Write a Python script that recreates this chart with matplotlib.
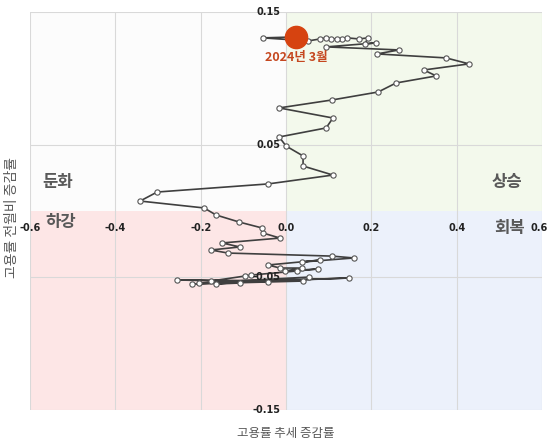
import matplotlib
matplotlib.use("Agg")
import matplotlib.pyplot as plt

plt.rcParams['font.family'] = ['Noto Sans CJK KR', 'DejaVu Sans']

# 고용률 추세 증감률 (x) / 고용률 전월비 증감률 (y), oldest -> latest
trend = [-0.042, -0.255, 0.040, -0.220, 0.148, -0.204, 0.054, -0.164, -0.108, -0.176,
         -0.096, -0.082, 0.026, 0.075, -0.002, 0.037, -0.014, -0.042, 0.080, 0.037,
         0.159, 0.108, -0.136, -0.176, -0.108, -0.150, -0.014, -0.054, -0.056, -0.110,
         -0.164, -0.192, -0.342, -0.302, -0.042, 0.110, 0.040, 0.040, 0.000, -0.016,
         0.094, 0.110, -0.016, 0.108, 0.216, 0.258, 0.352, 0.323, 0.429, 0.375,
         0.213, 0.265, 0.094, 0.211, 0.185, 0.192, 0.171, 0.143, 0.131, 0.120,
         0.105, 0.094, 0.080, 0.052, -0.054, 0.023]
mom = [-0.0535, -0.052, -0.0528, -0.055, -0.0505, -0.0543, -0.0498, -0.055, -0.0543, -0.0528,
       -0.049, -0.0483, -0.0452, -0.0437, -0.0452, -0.043, -0.043, -0.0407, -0.037, -0.0385,
       -0.0354, -0.034, -0.0317, -0.0294, -0.0271, -0.0241, -0.0204, -0.0166, -0.0128, -0.0083,
       -0.003, 0.0023, 0.0075, 0.0143, 0.0204, 0.0271, 0.0339, 0.0415, 0.049, 0.0558,
       0.0626, 0.0701, 0.0777, 0.0837, 0.0897, 0.0965, 0.1018, 0.1063, 0.1109, 0.1154,
       0.1184, 0.1214, 0.1237, 0.1267, 0.1259, 0.1305, 0.1297, 0.1305, 0.1297, 0.1297,
       0.1297, 0.1305, 0.1297, 0.1282, 0.1305, 0.1312]
latest_label = "2024년 3월"

x_ticks = [-0.6, -0.4, -0.2, 0.0, 0.2, 0.4, 0.6]
y_ticks = [-0.15, -0.05, 0.05, 0.15]

fig = plt.figure(figsize=(5.49, 4.44), dpi=100)
ax = fig.add_axes([30/549, 34/444, 512/549, 398/444])
ax.set_xlim(-0.6, 0.6)
ax.set_ylim(-0.15, 0.15)

# quadrant backgrounds
ax.axvspan(-0.6, 0, ymin=0.5, ymax=1, color='#fcfcfc', zorder=0, lw=0)
ax.axvspan(0, 0.6, ymin=0.5, ymax=1, color='#f3f9ec', zorder=0, lw=0)
ax.axvspan(-0.6, 0, ymin=0, ymax=0.5, color='#fde6e6', zorder=0, lw=0)
ax.axvspan(0, 0.6, ymin=0, ymax=0.5, color='#ecf1fb', zorder=0, lw=0)

for xv in x_ticks:
    ax.axvline(xv, color='#d9d9d9', lw=0.8, zorder=1)
for yv in y_ticks:
    ax.axhline(yv, color='#d9d9d9', lw=0.8, zorder=1)

ax.plot(trend, mom, color='#3f3f3f', lw=1.2, marker='o', ms=3.8,
        mfc='white', mec='#555555', mew=0.8, zorder=3)
ax.plot(trend[-1], mom[-1], 'o', ms=16, color='#d64310', zorder=4)
ax.text(trend[-1], mom[-1] - 0.0155, latest_label, color='#c5471f', fontsize=9,
        fontweight='bold', ha='center', va='center', zorder=5)

for s in ax.spines.values():
    s.set_visible(False)
ax.set_xticks([])
ax.set_yticks([])

# tick labels along the zero axes
for xv in x_ticks[:-1]:
    ax.text(xv, -0.0125, f"{xv:.1f}", fontsize=7, fontweight='bold', ha='center',
            va='center', color='#222222', zorder=2, clip_on=False, family='DejaVu Sans')
fig.text(548/549, 1 - 228/444, f"{x_ticks[-1]:.1f}", fontsize=7, fontweight='bold',
         ha='right', va='center', color='#222222', family='DejaVu Sans')
for yv in y_ticks:
    ax.text(-0.012, yv, f"{yv:.2f}", fontsize=7, fontweight='bold', ha='right',
            va='center', color='#222222', zorder=6, clip_on=False, family='DejaVu Sans')

qcol = '#595959'
ax.text(-0.57, 0.022, "둔화", fontsize=12, fontweight='bold', color=qcol, ha='left', va='center')
ax.text(-0.565, -0.0085, "하강", fontsize=12, fontweight='bold', color=qcol, ha='left', va='center')
ax.text(0.555, 0.022, "상승", fontsize=12, fontweight='bold', color=qcol, ha='right', va='center')
ax.text(0.56, -0.0125, "회복", fontsize=12, fontweight='bold', color=qcol, ha='right', va='center')

fig.text(286/549, 1 - 433/444, "고용률 추세 증감률", fontsize=9, color='#595959',
         ha='center', va='center')
fig.text(12/549, 1 - 218/444, "고용률 전월비 증감률", fontsize=10, color='#595959',
         ha='center', va='center', rotation=90)

fig.savefig("out.png", dpi=100)
